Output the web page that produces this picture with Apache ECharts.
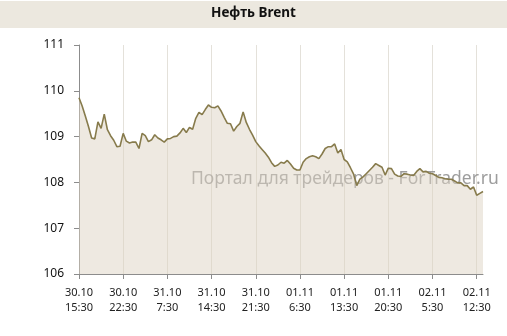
<!DOCTYPE html>
<html><head><meta charset="utf-8">
<script src="https://cdn.jsdelivr.net/npm/echarts@6/dist/echarts.min.js"></script>
<style>html,body{margin:0;padding:0;background:#fff}#c{width:507px;height:336px}</style>
</head><body><div id="c"></div>
<script>
const title = "Нефть Brent";
const watermark = "Портал для трейдеров - ForTrader.ru";
const tickLabels = ["30.10\n15:30","30.10\n22:30","31.10\n7:30","31.10\n14:30","31.10\n21:30","01.11\n6:30","01.11\n13:30","01.11\n20:30","02.11\n5:30","02.11\n12:30"];
const prices = [
109.85,109.67,109.45,109.22,108.97,108.95,109.32,109.18,109.49,109.15,
109.02,108.92,108.78,108.79,109.07,108.90,108.86,108.88,108.88,108.74,
109.07,109.02,108.89,108.93,109.04,108.97,108.93,108.88,108.95,108.96,
109.00,109.01,109.08,109.18,109.09,109.20,109.16,109.40,109.53,109.48,
109.59,109.69,109.64,109.63,109.67,109.56,109.42,109.29,109.28,109.12,
109.22,109.29,109.54,109.31,109.16,109.03,108.89,108.80,108.72,108.64,
108.55,108.43,108.35,108.38,108.44,108.42,108.48,108.40,108.31,108.27,
108.27,108.44,108.52,108.56,108.58,108.56,108.52,108.62,108.74,108.78,
108.78,108.84,108.64,108.72,108.50,108.45,108.32,108.18,107.93,108.07,
108.12,108.19,108.26,108.33,108.41,108.37,108.33,108.16,108.31,108.30,
108.18,108.14,108.13,108.19,108.18,108.16,108.15,108.24,108.30,108.23,
108.24,108.20,108.19,108.15,108.11,108.10,108.08,108.07,108.07,108.03,
107.99,107.99,107.93,107.93,107.85,107.90,107.72,107.76,107.80];
const labelStep = 14;
const categories = prices.map((_, i) => (i % labelStep === 0 && tickLabels[i / labelStep]) ? tickLabels[i / labelStep] : "");

const chart = echarts.init(document.getElementById('c'), null, {renderer: 'canvas'});
const font = '"Noto Sans", "DejaVu Sans", sans-serif';
chart.setOption({
  animation: false,
  backgroundColor: '#ffffff',
  graphic: [
    {type: 'rect', left: 0, top: 1, shape: {width: 507, height: 27}, style: {fill: '#ece8df'}, z: 0},
    {type: 'text', left: 'center', top: 6, style: {text: title, font: 'bold 13.5px ' + font, fill: '#111'}, z: 10},
    {type: 'text', left: 191, top: 170, style: {text: watermark, font: '17.5px ' + font, fill: 'rgba(140,140,140,0.85)'}, z: 1}
  ],
  grid: {left: 79, right: 24, top: 45, bottom: 62},
  xAxis: {
    type: 'category', boundaryGap: false, data: categories,
    axisLine: {lineStyle: {color: '#8c8c8c', width: 1}},
    axisTick: {show: true, length: 5, interval: (i) => i % labelStep === 0, lineStyle: {color: '#8c8c8c'}},
    axisLabel: {interval: (i) => i % labelStep === 0, color: '#222', fontSize: 11, fontFamily: font, margin: 11, lineHeight: 15},
    splitLine: {show: true, interval: (i) => i % labelStep === 0 && i > 0, lineStyle: {color: '#e4e1da', width: 1}}
  },
  yAxis: {
    type: 'value', min: 106, max: 111, interval: 1,
    axisLine: {show: true, lineStyle: {color: '#8c8c8c', width: 1}},
    axisTick: {show: true, length: 5, lineStyle: {color: '#8c8c8c'}},
    axisLabel: {color: '#111', fontSize: 12, fontFamily: font, margin: 15},
    splitLine: {show: false}
  },
  series: [{
    type: 'line', data: prices, symbol: 'none', smooth: false, z: 3,
    lineStyle: {color: '#877b4c', width: 1.6},
    areaStyle: {color: 'rgba(220,211,194,0.7)', origin: 'start'}
  }]
});
</script></body></html>
